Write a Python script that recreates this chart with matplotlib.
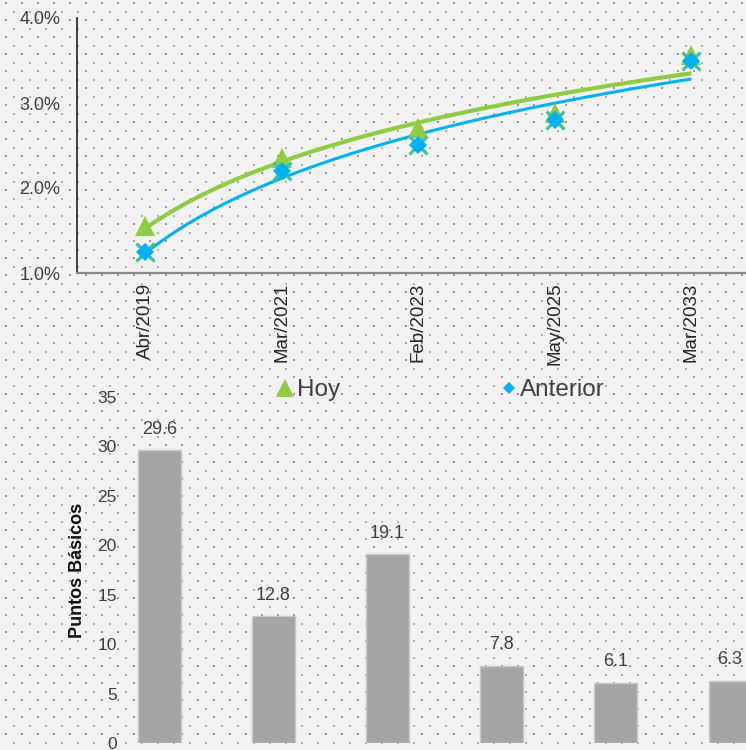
import numpy as np
import matplotlib

matplotlib.use("Agg")
import matplotlib.pyplot as plt  # noqa: E402
from matplotlib.lines import Line2D  # noqa: E402

# curve data (percent)
fechas = ["Abr/2019", "Mar/2021", "Feb/2023", "May/2025", "Mar/2033"]
hoy = [1.55, 2.35, 2.71, 2.88, 3.56]
anterior = [1.25, 2.20, 2.51, 2.80, 3.50]

# change in basis points
cambios = [29.6, 12.8, 19.1, 7.8, 6.1, 6.3]

GREEN = "#8fcb45"
BLUE = "#00b0f0"
TEAL = "#3fbfa3"
BG = "#f2f2f2"
TXT = "#404040"

plt.rcParams.update({"font.family": ["Liberation Sans", "DejaVu Sans"]})

W, H = 746, 750
fig = plt.figure(figsize=(W / 100, H / 100), dpi=100, facecolor=BG)

# dotted pattern fill behind everything
bg = fig.add_axes([0, 0, 1, 1], zorder=-5)
bg.set_xlim(0, W)
bg.set_ylim(H, 0)
bg.axis("off")
for i, yy in enumerate(np.arange(3.0, H, 8.5)):
    xs = np.arange(6.0 if i % 2 == 0 else 14.0, W, 16)
    bg.scatter(xs, np.full_like(xs, yy), s=2.6, marker="s", lw=0,
               color="#999999" if i % 2 == 0 else "#b0b0b0")


def log_trend(vals):
    """Excel-style logarithmic trendline through the points."""
    x = np.arange(1, len(vals) + 1)
    b, a = np.polyfit(np.log(x), vals, 1)
    xf = np.linspace(1, len(vals), 200)
    return xf - 1, a + b * np.log(xf)


# top: curve + log trendlines
ax = fig.add_axes([77 / W, 1 - 273 / H, (W - 77) / W, 255 / H])
ax.set_facecolor("none")
pos = np.arange(len(fechas))
tx, ty = log_trend(hoy)
ax.plot(tx, ty, color=GREEN, lw=3, solid_capstyle="butt", zorder=2)
tx, ty = log_trend(anterior)
ax.plot(tx, ty, color=BLUE, lw=2.2, solid_capstyle="butt", zorder=2)
ax.plot(pos, hoy, ls="none", marker="^", ms=14.5, color=GREEN, mew=0, zorder=3)
ax.plot(pos, anterior, ls="none", marker="x", ms=12.5, color=TEAL, mew=2.3, zorder=4)
ax.plot(pos, anterior, ls="none", marker="D", ms=9, color=BLUE, mew=0, zorder=5)
ax.set_xlim(-0.5, 4.4)
ax.set_ylim(1.0, 4.0)
ax.set_yticks([1.0, 2.0, 3.0, 4.0])
ax.set_yticklabels([f"{v:.1f}%" for v in [1.0, 2.0, 3.0, 4.0]])
ax.set_xticks(pos)
ax.set_xticklabels(fechas, rotation=90, va="top", ha="center")
ax.tick_params(axis="y", length=0, pad=12, labelsize=13, labelcolor=TXT)
ax.tick_params(axis="x", length=0, pad=7, labelsize=13.5, labelcolor="#262626")
for s in ("top", "right"):
    ax.spines[s].set_visible(False)
ax.spines["left"].set_color("#222222")
ax.spines["left"].set_linewidth(1.2)
ax.spines["bottom"].set_color("#8c8c8c")
ax.spines["bottom"].set_linewidth(1.6)

handles = [
    Line2D([], [], ls="none", marker="^", ms=13, color=GREEN, mew=0),
    Line2D([], [], ls="none", marker="D", ms=6, color=BLUE, mew=0),
]
fig.legend(handles, ["Hoy", "Anterior"], loc="center",
           bbox_to_anchor=(441 / W, 1 - 390 / H), ncol=2, frameon=False,
           fontsize=17.5, handlelength=0.7, handletextpad=0.12,
           columnspacing=6.6, labelcolor=TXT)

# bottom: bars in basis points
bx = fig.add_axes([125 / W, 1 - 743 / H, (W - 125) / W, 346 / H])
bx.set_facecolor("none")
bpos = np.arange(len(cambios))
bars = bx.bar(bpos, cambios, width=0.377, color="#a5a5a5",
              edgecolor="#c8c8c8", lw=1)
bx.bar_label(bars, labels=[f"{v:.1f}" for v in cambios], padding=9,
             fontsize=13, color=TXT)
bx.set_xlim(-0.30, 5.14)
bx.set_ylim(0, 35)
bx.set_yticks(range(0, 36, 5))
bx.set_xticks([])
bx.tick_params(axis="y", length=0, pad=6, labelsize=12.5, labelcolor=TXT)
for s in bx.spines.values():
    s.set_visible(False)
bx.set_ylabel("Puntos Básicos", fontsize=13, fontweight="bold",
              color="#111111", labelpad=8)

fig.savefig("out.png", dpi=100, facecolor=BG)
